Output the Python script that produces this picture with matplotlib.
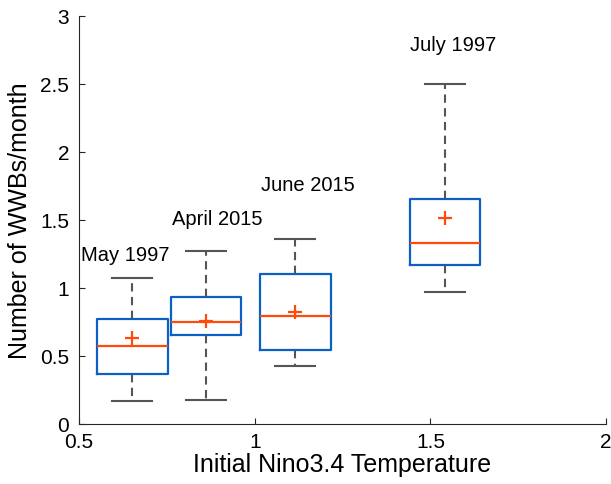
import numpy as np
import matplotlib
matplotlib.use('Agg')
import matplotlib.pyplot as plt
from matplotlib.ticker import FormatStrFormatter

plt.rcParams['font.family'] = ['Liberation Sans', 'DejaVu Sans']

# WWB counts per month, summarised per event
events = ['May 1997', 'April 2015', 'June 2015', 'July 1997']
nino34 = [0.652, 0.862, 1.116, 1.542]   # initial Nino3.4 temperature
medians = [0.577, 0.751, 0.800, 1.335]
q1 = [0.374, 0.660, 0.548, 1.175]
q3 = [0.776, 0.938, 1.109, 1.655]
whisk_lo = [0.173, 0.178, 0.430, 0.974]
whisk_hi = [1.075, 1.279, 1.362, 2.500]
means = [0.634, 0.761, 0.830, 1.516]

# where the event names go
label_x = [0.505, 0.764, 1.018, 1.441]
label_y = [1.246, 1.504, 1.754, 2.790]

box_col = '#0b60c6'
med_col = '#ff4a0a'
whisk_col = '#555555'

stats = []
for i in range(len(events)):
    stats.append(dict(med=medians[i], q1=q1[i], q3=q3[i],
                      whislo=whisk_lo[i], whishi=whisk_hi[i],
                      mean=means[i], fliers=[], label=events[i]))

fig = plt.figure(figsize=(6.11, 4.84), dpi=100)
ax = fig.add_axes([0.1293, 0.123, 0.8627, 0.843])

ax.bxp(stats, positions=nino34, widths=0.2, capwidths=0.114,
       showmeans=True, manage_ticks=False,
       boxprops=dict(color=box_col, linewidth=1.6),
       medianprops=dict(color=med_col, linewidth=1.6),
       whiskerprops=dict(color=whisk_col, linewidth=1.5, linestyle=(0, (4, 2.6))),
       capprops=dict(color=whisk_col, linewidth=1.5),
       meanprops=dict(marker='+', markeredgecolor=med_col, markersize=10,
                      markeredgewidth=1.6))

for name, x, y in zip(events, label_x, label_y):
    ax.text(x, y, name, fontsize=14.5, ha='left', va='center')

ax.set_xlim(0.5, 2)
ax.set_ylim(0, 3)
ax.set_xticks([0.5, 1, 1.5, 2])
ax.set_yticks(np.arange(0, 3.01, 0.5))
ax.xaxis.set_major_formatter(FormatStrFormatter('%g'))
ax.yaxis.set_major_formatter(FormatStrFormatter('%g'))
ax.tick_params(direction='in', length=4, width=0.8, colors='#262626',
               labelcolor='black', labelsize=15)
ax.tick_params(axis='x', pad=6)
ax.tick_params(axis='y', pad=7)

for side in ['top', 'right']:
    ax.spines[side].set_visible(False)
for side in ['left', 'bottom']:
    ax.spines[side].set_color('#262626')
    ax.spines[side].set_linewidth(0.8)

ax.set_xlabel('Initial Nino3.4 Temperature', fontsize=18, labelpad=1)
ax.set_ylabel('Number of WWBs/month', fontsize=18, labelpad=6)

fig.savefig('out.png', dpi=100)
